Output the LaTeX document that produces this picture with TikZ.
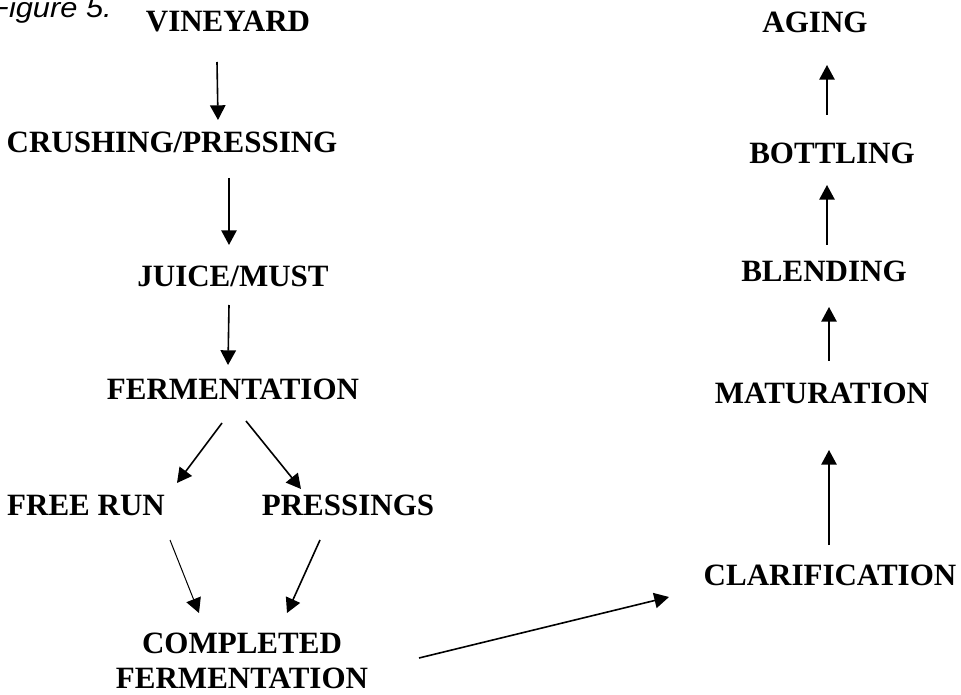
\documentclass[tikz,border=0pt]{standalone}
\usepackage{fontspec}
\usetikzlibrary{positioning,arrows.meta}
\newfontfamily\stagefont{Liberation Serif}
\newfontfamily\figfont[FakeStretch=1.1]{Liberation Sans}

\tikzset{
  stage/.style={inner sep=0pt, anchor=base,
    font=\stagefont\bfseries\fontsize{23.25}{26.25}\selectfont},
  flow/.style={line width=1.2pt, -{Triangle[length=11pt,width=11.5pt]}},
  flowthin/.style={flow, line width=0.75pt}
}

\begin{document}
\begin{tikzpicture}[x=0.75pt, y=-0.75pt]
 \useasboundingbox (0,0) rectangle (961,695);
 % caption, cut at the left edge
 \node [anchor=base east, inner sep=0pt,
        font=\figfont\itshape\fontsize{21}{25}\selectfont] (fig) at (112,18) {Figure 5.};
 % left column
 \node [stage] (vin) at (228,32) {VINEYARD};
 \node [below left=90.75pt and 42pt of vin.base, stage] (cru) {CRUSHING/PRESSING};
 \node [below right=100.5pt and 45.75pt of cru.base, stage] (jui) {JUICE/MUST};
 \node [below=84.75pt of jui.base, stage] (fer) {FERMENTATION};
 \node [below left=86.25pt and 110.25pt of fer.base, stage] (fre) {FREE RUN};
 \node [below right=86.25pt and 86.25pt of fer.base, stage] (prs) {PRESSINGS};
 \node [below right=129.75pt and 117pt of fre.base, stage, align=center] (com)
   {COMPLETED\\FERMENTATION};
 % right column
 \node [stage] (cla) at (830,585) {CLARIFICATION};
 \node [above left=136.5pt and 6pt of cla.base, stage] (mat) {MATURATION};
 \node [above right=90.75pt and 1.5pt of mat.base, stage] (ble) {BLENDING};
 \node [above right=88.5pt and 6pt of ble.base, stage] (bot) {BOTTLING};
 \node [above left=98.25pt and 12.75pt of bot.base, stage] (agi) {AGING};
 % arrows
 \draw [flow] ([shift={(-11,30)}]vin.base) -- ([shift={(46,-33)}]cru.base);
 \draw [flow] ([shift={(57,25)}]cru.base) -- ([shift={(-4,-42)}]jui.base);
 \draw [flow] ([shift={(-4,18)}]jui.base) -- ([shift={(-5,-35)}]fer.base);
 \draw [flow] ([shift={(-11,23)}]fer.base) -- ([shift={(91,-32)}]fre.base);
 \draw [flow] ([shift={(13,21)}]fer.base) -- ([shift={(-47,-26)}]prs.base);
 \draw [flowthin] ([shift={(84,25)}]fre.base) -- ([shift={(-43,-75)}]com.base);
 \draw [flow] ([shift={(-28,25)}]prs.base) -- ([shift={(45,-75)}]com.base);
 \draw [flow] ([shift={(177,-30)}]com.base) -- ([shift={(-161,12)}]cla.base);
 \draw [flow] ([shift={(-1,-40)}]cla.base) -- ([shift={(7,47)}]mat.base);
 \draw [flow] ([shift={(7,-42)}]mat.base) -- ([shift={(5,25)}]ble.base);
 \draw [flow] ([shift={(3,-37)}]ble.base) -- ([shift={(-5,21)}]bot.base);
 \draw [flow] ([shift={(-5,-49)}]bot.base) -- ([shift={(12,32)}]agi.base);
\end{tikzpicture}
\end{document}
